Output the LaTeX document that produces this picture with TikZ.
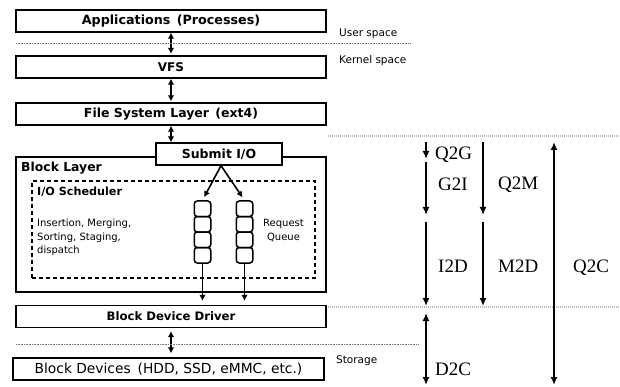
\documentclass[tikz,border=0pt]{standalone}
\usepackage{fontspec}
\setmainfont{DejaVu Sans}
\newfontfamily\tms{Liberation Serif}
\usetikzlibrary{arrows.meta}
\begin{document}
\begin{tikzpicture}[x=1pt,y=-1pt,
  box/.style={draw=black, line width=1.3pt, fill=white, inner sep=0pt, minimum height=22pt},
  fs/.style={font=\bfseries\fontsize{#1}{#1}\selectfont},
  rs/.style={font=\fontsize{#1}{#1}\selectfont},
  arr/.style={line width=1.6pt, -{Latex[length=6pt,width=6.5pt]}},
  darr/.style={line width=1.6pt, {Latex[length=6pt,width=6.5pt]}-{Latex[length=6pt,width=6.5pt]}},
  rarr/.style={line width=2pt, -{Latex[length=8pt,width=7pt]}},
  rdarr/.style={line width=2pt, {Latex[length=8pt,width=7pt]}-{Latex[length=8pt,width=7pt]}},
  sepline/.style={line width=0.7pt, black!55, dash pattern=on 0.8pt off 0.8pt},
  gsep/.style={line width=1.6pt, black!28, dash pattern=on 1pt off 1pt},
  cell/.style={draw, line width=1.5pt, rounded corners=3pt, minimum width=16.5pt, minimum height=15.5pt, inner sep=0pt},
  tm/.style={font=\tms\fontsize{19}{19}\selectfont, anchor=base west, inner sep=0pt},
  side/.style={rs=10.5, anchor=base west, inner sep=0pt}
]
\useasboundingbox (0,0) rectangle (620,387);

% main layer boxes
\node[box, minimum width=310pt, fs=12.7] (app) at (171,21) {Applications\hspace{0.5em}(Processes)};
\node[box, minimum width=310pt, fs=12] (vfs) at (171,67) {VFS};
\node[box, minimum width=310pt, fs=12.5] (fsl) at (171,114) {File System Layer\hspace{0.5em}(ext4)};

% block layer
\node[draw, line width=1.3pt, minimum width=310pt, minimum height=135pt, inner sep=0pt] (blk) at (171,224.5) {};
\node[draw, line width=1.4pt, dash pattern=on 4pt off 3pt, minimum width=283pt, minimum height=97pt, inner sep=0pt] (sched) at (173.5,229.5) {};
\node[box, minimum width=126pt, fs=12.5] (submit) at (219,154) {Submit I/O};
\node[fs=12.4, anchor=base west, inner sep=0pt] (blt) at (21,172) {Block Layer};
\node[fs=11.2, anchor=base west, inner sep=0pt] (schedt) at (37,196) {I/O Scheduler};
\node[font=\fontsize{10}{13.5}\selectfont, anchor=west, inner sep=0pt, align=left] (ops) at (37,237.5) {Insertion, Merging,\\Sorting, Staging,\\dispatch};
\node[font=\fontsize{10}{14}\selectfont, inner sep=0pt, align=center] (rq) at (283.5,230.5) {Request\\Queue};

% queue cells
\node[cell] (la1) at (202.5,208.75) {};
\node[cell] (la2) at (202.5,224.25) {};
\node[cell] (la3) at (202.5,239.75) {};
\node[cell] (la4) at (202.5,255.25) {};
\node[cell] (lb1) at (244.5,208.75) {};
\node[cell] (lb2) at (244.5,224.25) {};
\node[cell] (lb3) at (244.5,239.75) {};
\node[cell] (lb4) at (244.5,255.25) {};

\node[box, minimum width=310pt, fs=11.7] (bdd) at (171,316.5) {Block Device Driver};
\node[box, minimum width=311pt, rs=13.8] (bd) at (168.5,369) {Block Devices\hspace{0.5em}(HDD, SSD, eMMC, etc.)};

% left connectors
\draw[darr, shorten >=1.5pt] (app.south) -- (vfs.north);
\draw[darr, shorten >=1pt] (vfs.south) -- (fsl.north);
\draw[darr] (fsl.south) -- (fsl.south |- submit.north);
\coordinate (fork) at ([xshift=2pt]submit.south);
\draw[arr, shorten >=3.5pt] (fork) -- (la1.north);
\draw[arr, shorten >=3.5pt] (fork) -- (lb1.north);
\draw[arr, shorten >=4pt] (la4.south) -- (la4.south |- bdd.north);
\draw[arr, shorten >=4pt] (lb4.south) -- (lb4.south |- bdd.north);
\draw[darr, shorten <=3pt, shorten >=4pt] (bdd.south) -- (bdd.south |- bd.north);

% separators
\coordinate (s1a) at (16,43); \coordinate (s1b) at (410,43);
\coordinate (s2a) at (16,344); \coordinate (s2b) at (418,344);
\draw[sepline] (s1a) -- (s1b);
\draw[sepline] (s2a) -- (s2b);
\node[side] (us) at (339,37) {User space};
\node[side] (ks) at (339,63.5) {Kernel space};
\node[side] (st) at (336,363) {Storage};

% right timing
\coordinate (g1a) at (328,136); \coordinate (g1b) at (620,136);
\coordinate (g2a) at (328,307); \coordinate (g2b) at (620,307);
\draw[gsep] (g1a) -- (g1b);
\draw[gsep] (g2a) -- (g2b);

\coordinate (q2gs) at (426,142); \coordinate (q2ge) at (426,159);
\coordinate (g2is) at (426,162); \coordinate (g2ie) at (426,215);
\coordinate (q2ms) at (483,142); \coordinate (q2me) at (483,215);
\coordinate (i2ds) at (426,222); \coordinate (i2de) at (426,306);
\coordinate (m2ds) at (483,222); \coordinate (m2de) at (483,306);
\coordinate (q2cs) at (554,142); \coordinate (q2ce) at (554,385);
\coordinate (d2cs) at (426,313); \coordinate (d2ce) at (426,385);
\draw[rarr] (q2gs) -- (q2ge);
\draw[rarr] (g2is) -- (g2ie);
\draw[rarr] (q2ms) -- (q2me);
\draw[rarr] (i2ds) -- (i2de);
\draw[rarr] (m2ds) -- (m2de);
\draw[rdarr] (q2cs) -- (q2ce);
\draw[rdarr] (d2cs) -- (d2ce);

\node[tm] (tq2g) at (435,159.3) {Q2G};
\node[tm] (tg2i) at (438,191) {G2I};
\node[tm] (tq2m) at (498,190) {Q2M};
\node[tm] (ti2d) at (438,272.7) {I2D};
\node[tm] (tm2d) at (498,272.7) {M2D};
\node[tm] (tq2c) at (573,272.7) {Q2C};
\node[tm] (td2c) at (435,375) {D2C};
\end{tikzpicture}
\end{document}
